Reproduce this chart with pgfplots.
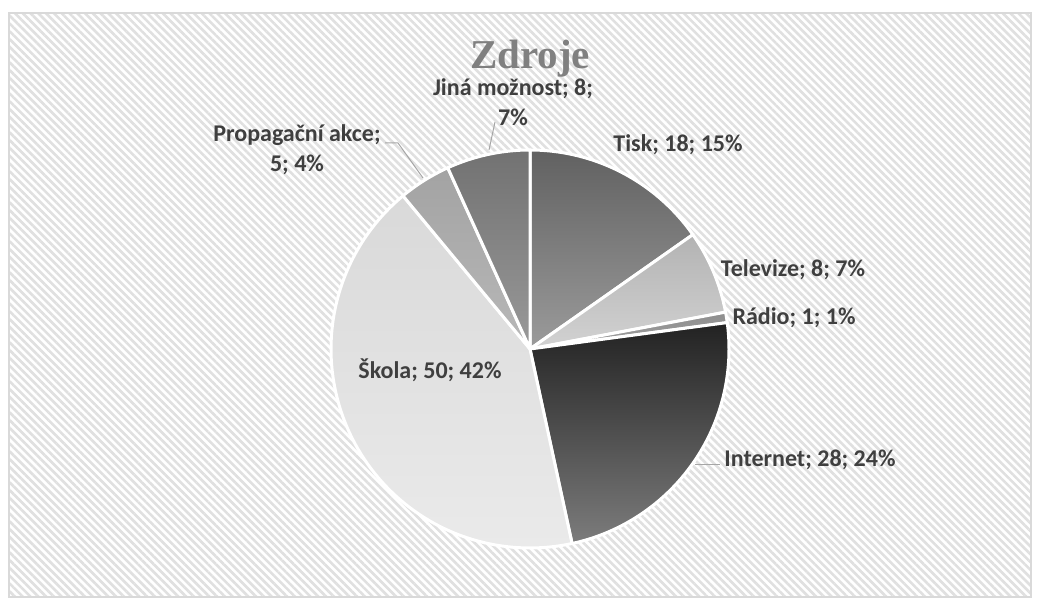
\documentclass[border=0pt]{standalone}
\usepackage{fontspec}
\setmainfont{Carlito}
\newfontfamily\titlefont{Liberation Serif}
\usepackage{pgfplots}
\pgfplotsset{compat=1.18}
\usetikzlibrary{patterns.meta}
\definecolor{lab}{HTML}{3F3F3F}
\definecolor{lead}{HTML}{A6A6A6}
\definecolor{tiskT}{HTML}{616161}\definecolor{tiskB}{HTML}{9B9B9B}
\definecolor{telT}{HTML}{B3B3B3}\definecolor{telB}{HTML}{D2D2D2}
\definecolor{radT}{HTML}{8E8E8E}\definecolor{radB}{HTML}{A0A0A0}
\definecolor{intT}{HTML}{222222}\definecolor{intB}{HTML}{7C7C7C}
\definecolor{skoT}{HTML}{D9D9D9}\definecolor{skoB}{HTML}{EAEAEA}
\definecolor{proT}{HTML}{A3A3A3}\definecolor{proB}{HTML}{B8B8B8}
\definecolor{jinT}{HTML}{727272}\definecolor{jinB}{HTML}{999999}
\newcommand{\slice}[4]{%
\addplot[draw=white, line width=3bp, line join=round, top color=#3, bottom color=#4,
  domain=90-360*#2/118:90-360*#1/118, samples=90, variable=\t]
  ({530+199*cos(\t)},{256+199*sin(\t)}) -- (axis cs:530,256) -- cycle;}
\begin{document}
\begin{tikzpicture}
\begin{axis}[width=1040bp,height=605bp,scale only axis,hide axis,
  xmin=0,xmax=1040,ymin=0,ymax=605,clip=false]
\addplot[fill=white,draw=none] coordinates {(0,0)(1040,0)(1040,605)(0,605)} -- cycle;
\addplot[draw=black!15, line width=1.2bp,
  pattern={Lines[angle=-45,distance=5.5bp,line width=2.6bp]}, pattern color=black!12]
  coordinates {(9,8)(1031,8)(1031,592)(9,592)} -- cycle;
% slices: cumulative start, cumulative end (values 18, 8, 1, 28, 50, 5, 8; total 118)
\slice{0}{18}{tiskT}{tiskB}      % Tisk 18
\slice{18}{26}{telT}{telB}       % Televize 8
\slice{26}{27}{radT}{radB}       % Radio 1
\slice{27}{55}{intT}{intB}       % Internet 28
\slice{55}{105}{skoT}{skoB}      % Skola 50
\slice{105}{110}{proT}{proB}     % Propagacni akce 5
\slice{110}{118}{jinT}{jinB}     % Jina moznost 8
% leader lines
\addplot[draw=lead, line width=1bp] coordinates {(495,483)(489,455)};
\addplot[draw=lead, line width=1bp] coordinates {(385,462)(398,462)(423,427)};
\addplot[draw=lead, line width=1bp] coordinates {(695,141)(720,141)};
% title
\node[anchor=base, text=black!50, font=\titlefont\bfseries\fontsize{41bp}{46bp}\selectfont] at (axis cs:530,536) {Zdroje};
% labels
\begin{scope}[every node/.style={text=lab, font=\bfseries\fontsize{24bp}{30bp}\selectfont, inner sep=0pt}]
\node at (axis cs:678,460) {Tisk; 18; 15\%};
\node at (axis cs:793,335) {Televize; 8; 7\%};
\node at (axis cs:794,287) {Rádio; 1; 1\%};
\node at (axis cs:810,145) {Internet; 28; 24\%};
\node at (axis cs:430,235) {Škola; 50; 42\%};
\node[align=center] at (axis cs:297,455) {Propagační akce;\\5; 4\%};
\node[align=center] at (axis cs:513,503) {Jiná možnost; 8;\\7\%};
\end{scope}
\end{axis}
\end{tikzpicture}
\end{document}
